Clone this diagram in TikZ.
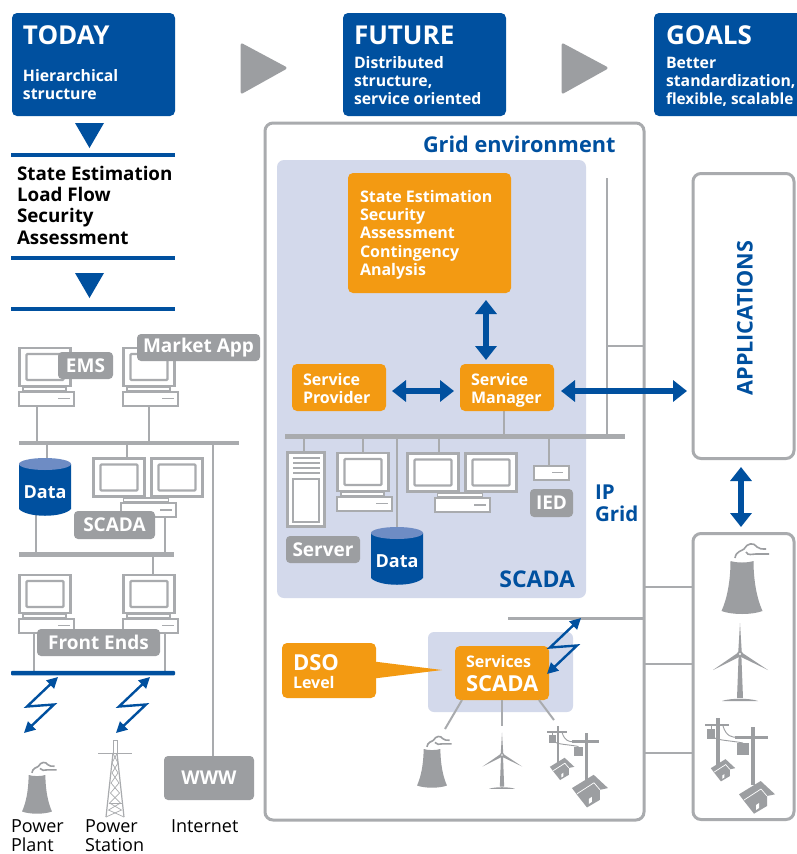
\documentclass[tikz,border=0pt]{standalone}
\usepackage{fontspec}
\setmainfont{Open Sans}
\usetikzlibrary{arrows.meta,calc}
\definecolor{fblue}{HTML}{00509F}
\definecolor{forange}{HTML}{F39A12}
\definecolor{fgray}{HTML}{A9ABAE}
\definecolor{lgray}{HTML}{9C9EA1}
\definecolor{lav}{HTML}{D3D9EB}
\definecolor{ltop}{HTML}{6E8CC4}
\pgfdeclarelayer{bgl}\pgfdeclarelayer{wirel}\pgfsetlayers{bgl,wirel,main}
\newcommand\fs[1]{\fontsize{#1}{#1}\selectfont}
\tikzset{
 x=1pt,y=-1pt,
 hdr/.style={fill=fblue,draw=none,rounded corners=5pt,inner sep=0pt,outer sep=0pt,minimum height=103pt,minimum width=163pt},
 txt/.style={anchor=base west,inner sep=0pt,outer sep=0pt},
 hbig/.style={txt,text=white,font=\fs{26}\bfseries},
 hsmall/.style={txt,text=white,font=\fs{15.8}\bfseries},
 listt/.style={txt,text=black,font=\fs{18.8}\bfseries},
 orat/.style={txt,text=white,font=\fs{16}\bfseries},
 capt/.style={txt,text=black,font=\fs{18}},
 flatbus/.style={fill=fgray,draw=none,minimum height=4.5pt,inner sep=0pt,outer sep=0pt},
 bluebus/.style={fill=fblue,draw=none,minimum height=4.5pt,inner sep=0pt,outer sep=0pt},
 wire/.style={draw=fgray,line width=2.6pt},
 mon/.style={draw=fgray,fill=white,line width=2.6pt,minimum width=51pt,minimum height=38pt,inner sep=0pt,outer sep=0pt},
 moni/.style={draw=fgray,fill=white,line width=2.2pt,minimum width=37pt,minimum height=26pt,inner sep=0pt,outer sep=0pt,rounded corners=1pt},
 basebox/.style={draw=fgray,fill=white,line width=2pt,minimum width=55pt,minimum height=14pt,inner sep=0pt,outer sep=0pt},
 neck/.style={draw=fgray,fill=white,line width=1.4pt,minimum width=43pt,minimum height=4pt,inner sep=0pt,outer sep=0pt},
 glabel/.style={fill=lgray,draw=none,rounded corners=4pt,text=white,font=\fs{19}\bfseries,inner sep=0pt,outer sep=0pt},
 orbox/.style={fill=forange,draw=none,rounded corners=5pt,inner sep=0pt,outer sep=0pt},
 frame/.style={draw=fgray,line width=3pt,rounded corners=8pt,inner sep=0pt,outer sep=0pt},
 bigarrow/.style={draw=fblue,line width=6pt,{Triangle[width=21pt,length=14pt]}-{Triangle[width=21pt,length=14pt]}},
 boltline/.style={draw=fblue,line width=2.4pt,miter limit=10,{Triangle[width=11pt,length=11pt]}-{Triangle[width=11pt,length=11pt]}},
 slot/.style={draw=fgray,line width=1.6pt},
 gfill/.style={fill=lgray,draw=none},
 ccool/.pic={
   \fill[gfill] (-11.5,0) .. controls (-11.5,20) and (-15,38) .. (-20.5,50) .. controls (-10,54) and (10,54) .. (20.5,50) .. controls (15,38) and (11.5,20) .. (11.5,0) .. controls (5,2) and (-5,2) .. cycle;
   \draw[lgray,line width=1.6pt] (-7,-3) .. controls (-6,-10) and (0,-10) .. (2,-12) .. controls (5,-18) and (12,-19) .. (15,-14) .. controls (17,-12) and (20,-12) .. (24,-12);
   \draw[lgray,line width=1.6pt] (4,-9) .. controls (6,-5) and (10,-7) .. (14,-7) -- (27,-7);
 },
 wturb/.pic={
   \fill[gfill] (-1.3,0) -- (-3,44) -- (3,44) -- (1.3,0) -- cycle;
   \fill[gfill] (-1.8,-1) -- (0,-31) -- (1.8,-1) -- cycle;
   \fill[gfill] (-1,-2) -- (-27,16) -- (1,2) -- cycle;
   \fill[gfill] (1,-2) -- (28,16) -- (-1,2) -- cycle;
   \fill[gfill] (-18,47) .. controls (-10,44) and (10,44) .. (18,47) -- cycle;
   \fill[gfill] (0,0) circle (3);
   \fill[white] (0,0) circle (1.2);
 },
 hhouse/.pic={
   \fill[gfill] (3.7,-16) -- (18,-2.7) -- (10,-1) -- (10,9) -- (-3,16.7) -- (-13,4) -- (-18,-2.7) -- cycle;
   \draw[white,line width=0.7pt] (-13,3) -- (4,-8) -- (10,-1);
   \fill[white] (-1,13) -- (2,11) -- (2,6) -- (-1,8) -- cycle;
 },
 ppoles/.pic={
   \fill[gfill] (-1.6,0) rectangle (1.6,47);
   \fill[gfill] (-13,5.7) rectangle (11,8.3);
   \fill[gfill] (-11,11) rectangle (-3,21);
   \draw[lgray,line width=1pt] (-7,8) -- (-7,11);
   \fill[gfill] (33.3,9) rectangle (36.7,67);
   \fill[gfill] (17,17.5) rectangle (50,20.5);
   \fill[gfill] (19,25) rectangle (31,37);
   \draw[lgray,line width=0.9pt] (5,8) .. controls (8,18) and (14,20) .. (20,19);
   \draw[lgray,line width=0.9pt] (-7,18) .. controls (0,23) and (10,22) .. (25,25);
   \pic at (5,52) [scale=.68] {hhouse};
   \pic at (39,79) {hhouse};
 },
 pylon/.pic={
   \draw[fgray,line width=1pt] (-2,0) rectangle (2,13);
   \draw[fgray,line width=1pt] (-17,13) -- (17,13);
   \draw[fgray,line width=1.2pt] (-2,13) -- (-9,77) (2,13) -- (9,77);
   \draw[fgray,line width=.7pt] (-2.2,13) -- (3,23) -- (-3,33) -- (4,43) -- (-4.5,53) -- (5.5,63) -- (-6.5,70) -- (9,77);
   \draw[fgray,line width=.7pt] (2.2,13) -- (-3,23) -- (3,33) -- (-4,43) -- (4.5,53) -- (-5.5,63) -- (6.5,70) -- (-9,77);
   \draw[fgray,line width=.7pt] (-6.5,63) -- (6.5,63);
 },
}
\newcommand\computer[3]{% name, monitor left x, monitor top y
 \node[neck] (#1n) at ($(#2+25.5,#3+42)$) {};
 \node[mon] (#1) at ($(#2+26,#3+20)$) {};
 \node[moni] (#1i) at (#1.center) {};
 \node[basebox] (#1b) at ($(#2+27,#3+51.5)$) {};
 \draw[slot] ($(#2+39,#3+51.5)$) -- ($(#2+51,#3+51.5)$);
}
\newcommand\dualmon[3]{% name, left x, top y
 \node[neck,minimum width=45pt] (#1n) at ($(#2+53,#3+43)$) {};
 \node[mon] (#1a) at ($(#2+26,#3+20.5)$) {};
 \node[moni] (#1ai) at (#1a.center) {};
 \node[mon] (#1c) at ($(#2+84,#3+20.5)$) {};
 \node[moni] (#1ci) at (#1c.center) {};
 \node[basebox] (#1b) at ($(#2+55,#3+53)$) {};
 \draw[slot] ($(#2+67,#3+53)$) -- ($(#2+79,#3+53)$);
}
\newcommand\cylinder[3]{% name, cx, top y
 \fill[fblue] (#2-26,#3+6) -- (#2-26,#3+51) .. controls (#2-18,#3+60) and (#2+18,#3+60) .. (#2+26,#3+51) -- (#2+26,#3+6) -- cycle;
 \fill[ltop] (#2,#3+6) ellipse (26 and 6);
 \node[text=white,font=\fs{18}\bfseries,inner sep=0pt] (#1) at (#2,#3+34) {Data};
}
\newcommand\tap[3]{\begin{pgfonlayer}{wirel}\draw[wire] (#1,0 |- #2) -- (#1,0 |- #3);\end{pgfonlayer}}
\newcommand\bolt[2]{\coordinate (b#1) at #2;
 \draw[boltline,shift={(b#1)}] (0,0) -- (-31,29.5) -- (-4,27.5) -- (-34,56);}
\begin{document}
\begin{tikzpicture}
\useasboundingbox (0,0) rectangle (797,854);
\begin{pgfonlayer}{bgl}
\fill[white] (0,0) rectangle (797,854);
\node[frame,fill=white,minimum width=379pt,minimum height=697pt] (grid) at (454.5,471.5) {};
\node[fill=lav,rounded corners=7pt,minimum width=309pt,minimum height=438pt,inner sep=0pt] (lava) at (431.5,379) {};
\node[fill=lav,rounded corners=6pt,minimum width=145pt,minimum height=80pt,inner sep=0pt] (lav2) at (500.5,672) {};
\end{pgfonlayer}
% Header
\node[hdr] (today) at (93.5,64.5) {};
\node[hdr] (future) at (424.5,64.5) {};
\fill[fblue,rounded corners=5pt] (654,13) rectangle (815,116);
\node[hbig] (t1) at (23,44) {TODAY};
\node[hsmall] (t2) at (23,81) {Hierarchical};
\node[hsmall] (t3) at (23,99) {structure};
\node[hbig] (f1) at (354,44) {FUTURE};
\node[hsmall] (f2) at (354,68) {Distributed};
\node[hsmall] (f3) at (354,86) {structure,};
\node[hsmall] (f4) at (354,104) {service oriented};
\node[hbig] (g1) at (666,44) {GOALS};
\node[hsmall] (g2) at (666,68) {Better};
\node[hsmall] (g3) at (666,86) {standardization,};
\node[hsmall,font=\fs{15.4}\bfseries] (g4) at (666,104) {flexible, scalable};
\filldraw[lgray,line width=3pt,line join=round] (242,45) -- (285,68) -- (242,92) -- cycle;
\filldraw[lgray,line width=3pt,line join=round] (563,45) -- (606,68) -- (563,92) -- cycle;
% Left list
\fill[fblue] (75,123) -- (104,123) -- (89.5,148) -- cycle;
\node[bluebus,minimum width=164pt] (r1) at (93,155) {};
\node[listt] (l1) at (17,180) {State Estimation};
\node[listt] (l2) at (17,201) {Load Flow};
\node[listt] (l3) at (17,222) {Security};
\node[listt] (l4) at (17,244) {Assessment};
\node[bluebus,minimum width=164pt] (r2) at (93,258) {};
\fill[fblue] (75,273) -- (104,273) -- (89.5,298) -- cycle;
\node[bluebus,minimum width=164pt] (r3) at (93,309) {};
% Left network
\node[flatbus,minimum width=220pt] (bus1) at (129,443) {};
\node[flatbus,minimum width=155pt] (bus2) at (96.5,554.5) {};
\node[bluebus,minimum width=164pt,rounded corners=1pt] (bus3) at (93,673) {};
\computer{c1}{19}{347}
\computer{c2}{123}{347}
\cylinder{d1}{45}{458}
\dualmon{s1}{93}{457}
\computer{c3}{19}{574}
\computer{c4}{123}{574}
\node[rounded corners=4pt,fill=lgray,inner sep=0pt,minimum width=90pt,minimum height=44pt,text=white,font=\fs{19}\bfseries] (www) at (209,778) {WWW};
\tap{37}{c1b}{bus1}
\tap{149}{c2b}{bus1}
\tap{47}{bus1}{d1}
\tap{127}{bus1}{s1a}
\tap{213}{bus1}{www}
\tap{36}{d1}{bus2}
\tap{165}{s1b}{bus2}
\tap{153}{bus2}{c4}
\tap{34}{c3b}{bus3}
\tap{165}{c4b}{bus3}
\node[glabel,minimum width=55pt,minimum height=27pt] (ems) at (85.5,365.5) {EMS};
\node[glabel,minimum width=123pt,minimum height=27pt] (mkt) at (198.5,347.5) {Market App};
\node[glabel,minimum width=81pt,minimum height=28pt] (scada1) at (114.5,525) {SCADA};
\node[glabel,minimum width=123pt,minimum height=27pt] (fe) at (98.5,642.5) {Front Ends};
\bolt{1}{(58,677)}
\bolt{2}{(150,677)}
\pic at (37,775) [scale=.73] {ccool};
\pic at (115,740) {pylon};
\node[capt] (cp1) at (11,832) {Power};
\node[capt] (cp2) at (11,851) {Plant};
\node[capt] (cp3) at (85,832) {Power};
\node[capt] (cp4) at (85,851) {Station};
\node[capt] (cp5) at (171,832) {Internet};
% Grid environment
\node[txt,text=fblue,font=\fs{21.7}\bfseries] (gt) at (423,152) {Grid environment};
\node[flatbus,minimum width=340pt] (bus4) at (455,436.5) {};
\coordinate (vt) at (607,178);
\coordinate (vr) at (644,346);
\draw[wire] (vt) -- (vt |- bus4);
\draw[wire] (vt |- vr) -- (vr);
% orange
\node[orbox,minimum width=163pt,minimum height=120pt] (se) at (429.5,233) {};
\node[orat] (se1) at (360,202) {State Estimation};
\node[orat] (se2) at (360,220) {Security};
\node[orat] (se3) at (360,238) {Assessment};
\node[orat] (se4) at (360,257) {Contingency};
\node[orat] (se5) at (360,275) {Analysis};
\node[orbox,minimum width=94pt,minimum height=47pt] (sp) at (339,387.5) {};
\node[orat] (sp1) at (303,385) {Service};
\node[orat] (sp2) at (303,403) {Provider};
\node[orbox,minimum width=94pt,minimum height=47pt] (sm) at (507,387.5) {};
\node[orat] (sm1) at (471,385) {Service};
\node[orat] (sm2) at (471,403) {Manager};
% applications
\node[frame,minimum width=101pt,minimum height=285pt] (app) at (743.5,316) {};
\node[rotate=90,text=fblue,font=\fs{21.6}\bfseries,inner sep=0pt] (appt) at (745,318) {APPLICATIONS};
\node[frame,minimum width=101pt,minimum height=286pt] (gen) at (743.5,676.5) {};
% arrows
\draw[bigarrow] (486,300) -- (486,360);
\draw[bigarrow] (392,391) -- (454,391);
\draw[bigarrow] (561,391) -- (687,391);
\draw[bigarrow] (741,467) -- (741,527);
\tap{504}{sm}{bus4}
% SCADA devices
\node[draw=fgray,fill=white,line width=2.4pt,minimum width=37pt,minimum height=74pt,inner sep=0pt] (srv) at (306,489.5) {};
\foreach \yy in {458,463,468,473} \draw[fgray,line width=2pt] (293,\yy) -- (320,\yy);
\node[draw=fgray,fill=white,line width=2pt,minimum width=26pt,minimum height=43pt,inner sep=0pt] (srvi) at (306,500.5) {};
\computer{c5}{337}{452}
\cylinder{d2}{397}{527}
\dualmon{s2}{407}{452}
\node[basebox,minimum width=35pt,minimum height=14pt] (ied) at (551,472.5) {};
\draw[slot] (552,472.5) -- (563,472.5);
\tap{304}{bus4}{srv}
\tap{363}{bus4}{c5}
\tap{397}{bus4}{d2}
\tap{439}{bus4}{s2a}
\tap{549}{bus4}{ied}
\node[glabel,minimum width=43pt,minimum height=28pt] (iedl) at (551.5,503) {IED};
\node[glabel,minimum width=74pt,minimum height=27pt] (srvl) at (323,549.5) {Server};
\node[txt,text=fblue,font=\fs{23}\bfseries,anchor=base east] (sc) at (575,587) {SCADA};
\node[txt,text=fblue,font=\fs{20.5}\bfseries] (ip1) at (595,499) {IP};
\node[txt,text=fblue,font=\fs{20.5}\bfseries] (ip2) at (595,521) {Grid};
% DSO
\node[flatbus,minimum width=136pt,minimum height=3pt] (bus5) at (576,618) {};
\fill[forange] (370,661) -- (442,670) -- (370,679) -- cycle;
\node[orbox,minimum width=94pt,minimum height=55pt] (dso) at (329,670.5) {};
\node[txt,text=white,font=\fs{22}\bfseries] (dso1) at (293,670) {DSO};
\node[txt,text=white,font=\fs{16}\bfseries] (dso2) at (293,688) {Level};
\node[orbox,minimum width=94pt,minimum height=54pt] (svc) at (502,673) {};
\node[txt,text=white,font=\fs{16}\bfseries] (svc1) at (466,667) {Services};
\node[txt,text=white,font=\fs{22}\bfseries] (svc2) at (466,691) {SCADA};
\bolt{3}{(581,618)}
\coordinate (sp1c) at (445,729);
\coordinate (sp3c) at (554,720);
\draw[wire,line width=2pt] (462,700) -- (sp1c);
\draw[wire,line width=2pt] (502,700) -- (502,726);
\draw[wire,line width=2pt] (539,700) -- (sp3c);
\pic at (432,749) [scale=.73] {ccool};
\pic at (502,755) [scale=.72] {wturb};
\pic at (558,726) [scale=.82] {ppoles};
% right connectors
\coordinate (l1c) at (644,587);
\coordinate (l2c) at (644,664);
\coordinate (l3c) at (644,753);
\draw[wire] (l1c) -- (l1c -| gen.west);
\draw[wire] (l2c) -- (l2c -| gen.west);
\draw[wire] (l3c) -- (l3c -| gen.west);
\pic at (742,561) {ccool};
\pic at (740,654) {wturb};
\pic at (718,718) {ppoles};
\end{tikzpicture}
\end{document}
